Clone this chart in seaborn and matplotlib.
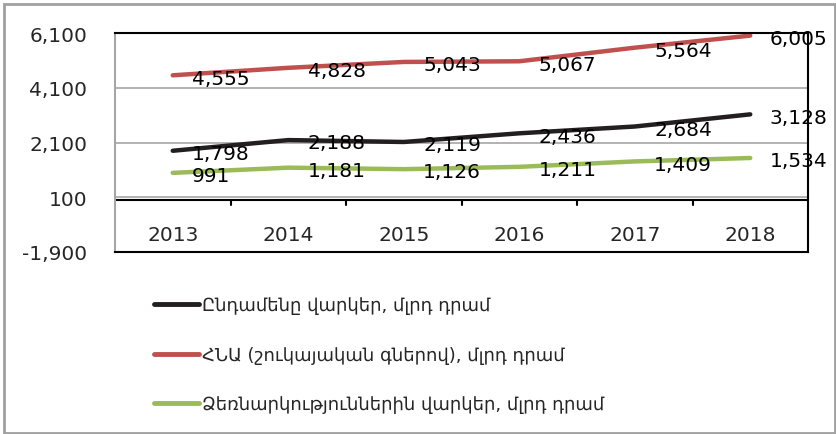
import matplotlib
matplotlib.use("Agg")
import matplotlib.pyplot as plt
import matplotlib.transforms as mtransforms
from matplotlib.patches import Rectangle
import seaborn as sns
import pandas as pd

years = ["2013", "2014", "2015", "2016", "2017", "2018"]
total_loans = [1798, 2188, 2119, 2436, 2684, 3128]
gdp = [4555, 4828, 5043, 5067, 5564, 6005]
business_loans = [991, 1181, 1126, 1211, 1409, 1534]

names = [
    "Ընդամենը վարկեր, մլրդ դրամ",
    "ՀՆԱ (շուկայական գներով), մլրդ դրամ",
    "Ձեռնարկություններին վարկեր, մլրդ դրամ",
]
colors = ["#231f20", "#c0504d", "#9bbb59"]
yticks = [-1900, 100, 2100, 4100, 6100]

rows = []
for name, vals in zip(names, [total_loans, gdp, business_loans]):
    for i, v in enumerate(vals):
        rows.append({"pos": i, "value": v, "series": name})
df = pd.DataFrame(rows)

sns.set_style("white")
plt.rcParams["font.family"] = ["DejaVu Sans"]

fig = plt.figure(figsize=(8.36, 4.35), dpi=100)
ax = fig.add_axes([115 / 836, 1 - 253 / 435, (808 - 115) / 836, (253 - 34) / 435])

sns.lineplot(data=df, x="pos", y="value", hue="series", hue_order=names,
             palette=colors, linewidth=3.2, ax=ax, legend=False,
             solid_capstyle="round")

# data labels
for name, vals in zip(names, [total_loans, gdp, business_loans]):
    for i, v in enumerate(vals):
        ax.annotate(f"{v:,}", (i, v), xytext=(14, -2), textcoords="offset points",
                    ha="left", va="center", fontsize=14.5, color="black",
                    annotation_clip=False)

ax.set_xlim(-0.5, 5.5)
ax.set_ylim(-1900, 6100)
ax.set_yticks(yticks)
ax.set_yticklabels([f"{t:,}" for t in yticks], fontsize=14.5)
ax.yaxis.grid(True, color="#a6a6a6", linewidth=1.2)
ax.set_axisbelow(True)
ax.tick_params(axis="y", length=6, color="#a6a6a6", width=1.2, pad=14)
ax.set_xticks([])
ax.set_xlabel("")
ax.set_ylabel("")

for s in ["top", "right", "bottom"]:
    ax.spines[s].set_visible(True)
    ax.spines[s].set_color("black")
    ax.spines[s].set_linewidth(1.5)
ax.spines["left"].set_color("#a6a6a6")
ax.spines["left"].set_linewidth(1.5)

# category axis crossing at 100
shift = mtransforms.offset_copy(ax.transData, fig=fig, x=0, y=-3, units="dots")
ax.plot([-0.5, 5.5], [100, 100], color="black", linewidth=1.5, transform=shift,
        clip_on=False)
for b in range(1, 6):
    ax.plot([b - 0.5, b - 0.5], [100, 100 - 190], color="black", linewidth=1.5,
            transform=shift)
for i, y in enumerate(years):
    ax.text(i, -1250, y, ha="center", va="center", fontsize=14.5)

# legend
handles = [plt.Line2D([], [], color=c, linewidth=3.5, solid_capstyle="round") for c in colors]
fig.legend(handles, names, loc="upper left", bbox_to_anchor=(138 / 836, 1 - 281 / 435),
           frameon=False, fontsize=13, handlelength=2.5, handletextpad=0.15,
           labelspacing=1.75)

fig.patches.append(Rectangle((4 / 836, 1 / 435), 831 / 836, 429 / 435,
                             transform=fig.transFigure, fill=False,
                             edgecolor="#a0a0a0", linewidth=2))

fig.savefig("out.png", dpi=100)
